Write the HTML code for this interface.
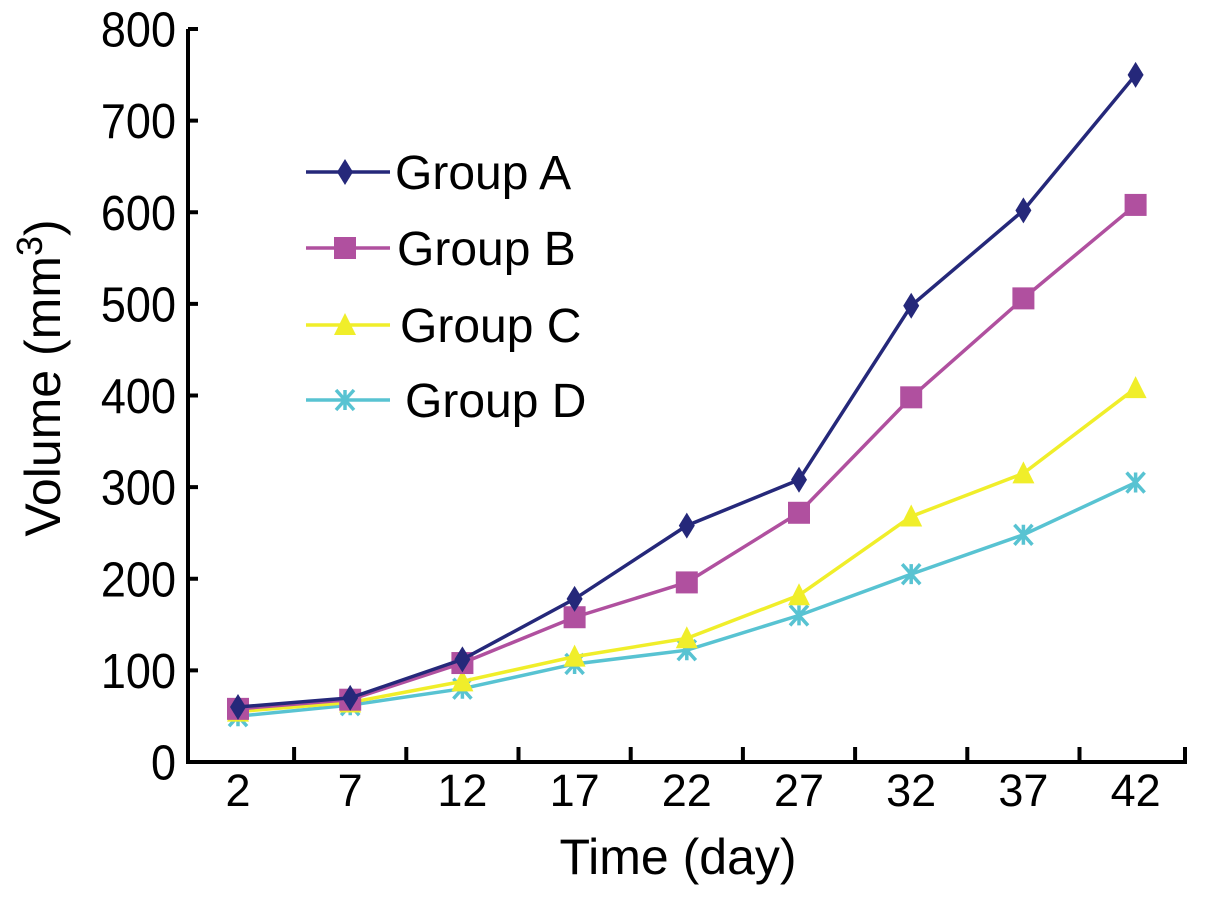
<!DOCTYPE html>
<html><head><meta charset="utf-8"><style>
body{margin:0;background:#fff;}
svg{display:block;font-family:"Liberation Sans",Arial,sans-serif;}
</style></head><body>
<svg id="chart" width="1205" height="898"></svg>
<script>
const categories=[2,7,12,17,22,27,32,37,42];
const groupA=[60,70,112,178,258,308,498,602,750];
const groupB=[58,68,108,158,196,272,398,506,608];
const groupC=[55,65,88,115,135,182,268,315,408];
const groupD=[50,62,80,107,122,160,205,248,305];
const yTicks=[0,100,200,300,400,500,600,700,800];
const seriesNames=["Group A","Group B","Group C","Group D"];
const NS="http://www.w3.org/2000/svg";
const svg=document.getElementById('chart');
const x0=188,y0=762,yTop=29,step=112.2,first=238;
const X=i=>first+i*step;
const Y=v=>y0-(v/800)*(y0-yTop);
function el(t,a,p){const e=document.createElementNS(NS,t);for(const k in a)e.setAttribute(k,a[k]);(p||svg).appendChild(e);return e;}
const axes=el('g',{});


const ya=el('line',{x1:x0,y1:yTop,x2:x0,y2:y0,stroke:'#000','stroke-width':4},axes);


const xa=el('line',{x1:x0-2,y1:y0,x2:1187,y2:y0,stroke:'#000','stroke-width':4},axes);


yTicks.forEach(v=>{
  el('line',{x1:x0,y1:Y(v),x2:x0+10,y2:Y(v),stroke:'#000','stroke-width':4},axes);
  const t=el('text',{x:x0-12,y:Y(v)+16,'text-anchor':'end','font-size':45,transform:`translate(0,${Y(v)}) scale(1,1.1) translate(0,${-Y(v)})`},axes);
  t.textContent=v;
  
  
});
for(let i=1;i<=9;i++){
  const xx=Math.min(X(i)-step/2,1185);
  el('line',{x1:xx,y1:y0,x2:xx,y2:y0-15,stroke:'#000','stroke-width':4},axes);
}
categories.forEach((c,i)=>{
  const t=el('text',{x:X(i),y:806,'text-anchor':'middle','font-size':45},axes);
  t.textContent=c;
  
  
});
const xt=el('text',{x:678,y:874,'text-anchor':'middle','font-size':50});
xt.textContent='Time (day)';


const yt=el('text',{x:0,y:0,'text-anchor':'middle','font-size':50,transform:'translate(60,378) rotate(-90)'});
yt.innerHTML='Volume (mm<tspan dy="-18" font-size="36">3</tspan><tspan dy="18">)</tspan>';


const colors=['#25287a','#b0509f','#f0ee2a','#58c3d2'];
const data=[groupA,groupB,groupC,groupD];
function marker(k,cx,cy,g){
  const c=colors[k];
  if(k===0) return el('path',{d:`M${cx} ${cy-13}L${cx+8} ${cy}L${cx} ${cy+13}L${cx-8} ${cy}Z`,fill:c},g);
  if(k===1) return el('rect',{x:cx-11,y:cy-11,width:22,height:22,fill:c},g);
  if(k===2) return el('path',{d:`M${cx} ${cy-12}L${cx+11} ${cy+10}L${cx-11} ${cy+10}Z`,fill:c},g);
  return el('path',{d:`M${cx-9} ${cy-10}L${cx+9} ${cy+10}M${cx+9} ${cy-10}L${cx-9} ${cy+10}M${cx} ${cy-10}L${cx} ${cy+10}`,stroke:c,'stroke-width':3.5},g);
}
[3,2,1,0].forEach(k=>{
  const g=el('g',{});
  
  
  const pts=data[k].map((v,i)=>X(i)+','+Y(v)).join(' ');
  el('polyline',{points:pts,fill:'none',stroke:colors[k],'stroke-width':3.5},g);
  data[k].forEach((v,i)=>{
    const m=marker(k,X(i),Y(v),g);
    
    
  });
});
const legY=[172,248,325,400],legTX=[395,397,400,405];
seriesNames.forEach((n,k)=>{
  const g=el('g',{});
  
  
  el('line',{x1:306,y1:legY[k],x2:390,y2:legY[k],stroke:colors[k],'stroke-width':3.5},g);
  marker(k,345,legY[k],g);
  const t=el('text',{x:legTX[k],y:legY[k]+17,'font-size':48},g);
  t.textContent=n;
});
</script>
</body></html>
